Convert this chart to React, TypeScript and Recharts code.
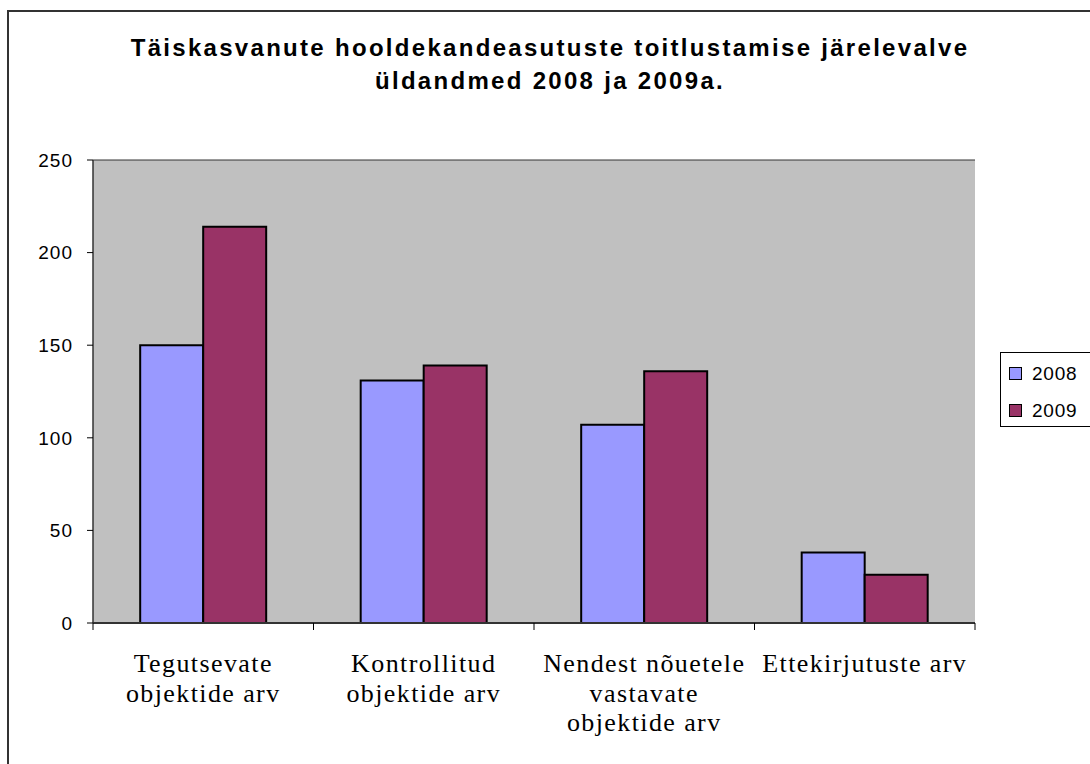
import React from "react";
import {
    BarChart,
    Bar,
    XAxis,
    YAxis,
    CartesianGrid,
} from "recharts";

// andmed
const categories = [
    "Tegutsevate\nobjektide arv",
    "Kontrollitud\nobjektide arv",
    "Nendest nõuetele\nvastavate\nobjektide arv",
    "Ettekirjutuste arv",
];
const values2008 = [150, 131, 107, 38];
const values2009 = [214, 139, 136, 26];
const yTicks = [0, 50, 100, 150, 200, 250];
const seriesNames = ["2008", "2009"];
const seriesColors = ["#9999FF", "#993366"];

const data = categories.map((name, i) => ({
    name,
    y2008: values2008[i],
    y2009: values2009[i],
}));

const SANS = "'Liberation Sans', Arial, sans-serif";
const SERIF = "'Liberation Serif', 'Times New Roman', serif";

function CategoryTick(props: any) {
    const { x, y, payload, visibleTicksCount } = props;
    const lines = String(payload.value).split("\n");
    const half = payload.offset || 0;
    const last = payload.index === (visibleTicksCount ?? categories.length) - 1;
    return (
        <g>
            <line x1={x - half} y1={y} x2={x - half} y2={y + 7} stroke="#000" />
            {last && <line x1={x + half} y1={y} x2={x + half} y2={y + 7} stroke="#000" />}
            <text
                x={x}
                y={y + 49}
                textAnchor="middle"
                fontFamily={SERIF}
                fontSize={26}
                letterSpacing={1.4}
                fill="#000"
            >
                {lines.map((l, i) => (
                    <tspan key={i} x={x} dy={i === 0 ? 0 : 29.5}>
                        {l}
                    </tspan>
                ))}
            </text>
        </g>
    );
}

function LegendBox() {
    return (
        <div
            style={{
                position: "absolute",
                left: 1000,
                top: 352,
                width: 100,
                height: 75,
                boxSizing: "border-box",
                border: "1px solid #000",
                background: "#fff",
                padding: "2px 0 0 8px",
                fontFamily: SANS,
                fontSize: 19,
                letterSpacing: 0.8,
            }}
        >
            {seriesNames.map((label, i) => (
                <div key={label} style={{ display: "flex", alignItems: "center", height: 37 }}>
                    <span
                        style={{
                            display: "inline-block",
                            width: 11,
                            height: 11,
                            background: seriesColors[i],
                            border: "1px solid #000",
                            marginRight: 10,
                        }}
                    />
                    {label}
                </div>
            ))}
        </div>
    );
}

export default function App() {
    return (
        <div style={{ position: "absolute", left: 0, top: 0, width: 1090, height: 764, background: "#fff", overflow: "hidden" }}>
            {/* raam */}
            <div
                style={{
                    position: "absolute",
                    left: 7,
                    top: 10,
                    width: 1090,
                    height: 760,
                    borderTop: "2px solid #333",
                    borderLeft: "2px solid #333",
                }}
            />
            {/* pealkiri */}
            <div
                style={{
                    position: "absolute",
                    left: 0,
                    top: 31,
                    width: 1100,
                    textAlign: "center",
                    fontFamily: SANS,
                    fontWeight: "bold",
                    fontSize: 24,
                    letterSpacing: 2.3,
                    lineHeight: "33px",
                }}
            >
                Täiskasvanute hooldekandeasutuste toitlustamise järelevalve
                <br />
                üldandmed 2008 ja 2009a.
            </div>
            <BarChart
                width={1090}
                height={764}
                data={data}
                margin={{ top: 160, right: 115, left: 0, bottom: 0 }}
                barCategoryGap="21.4%"
                barGap={0}
            >
                <CartesianGrid
                    vertical={false}
                    fill="#C0C0C0"
                    stroke="#333"
                    strokeOpacity={1}
                />
                <XAxis
                    dataKey="name"
                    interval={0}
                    tickLine={false}
                    tickSize={0}
                    tickMargin={0}
                    axisLine={{ stroke: "#333", strokeWidth: 2 }}
                    tick={<CategoryTick />}
                    height={141}
                />
                <YAxis
                    yAxisId="left"
                    domain={[0, 250]}
                    ticks={yTicks}
                    width={93}
                    tickSize={6}
                    tickMargin={14}
                    tickLine={{ stroke: "#000" }}
                    axisLine={{ stroke: "#333", strokeWidth: 1.5 }}
                    tick={{ fill: "#000", fontSize: 19, fontFamily: SANS, letterSpacing: 1 }}
                />
                <YAxis
                    yAxisId="right"
                    orientation="right"
                    domain={[0, 250]}
                    width={0}
                    tick={false}
                    tickLine={false}
                    axisLine={{ stroke: "#808080", strokeWidth: 2 }}
                />
                <Bar
                    yAxisId="left"
                    dataKey="y2008"
                    name={seriesNames[0]}
                    fill={seriesColors[0]}
                    stroke="#000"
                    strokeWidth={2}
                    isAnimationActive={false}
                />
                <Bar
                    yAxisId="left"
                    dataKey="y2009"
                    name={seriesNames[1]}
                    fill={seriesColors[1]}
                    stroke="#000"
                    strokeWidth={2}
                    isAnimationActive={false}
                />
            </BarChart>
            <LegendBox />
        </div>
    );
}
